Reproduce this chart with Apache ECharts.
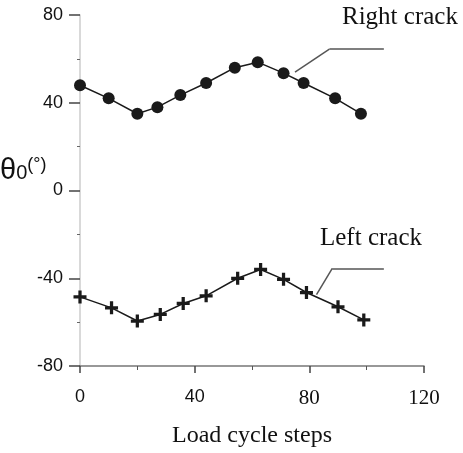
<!DOCTYPE html>
<html>
<head>
<meta charset="utf-8">
<script src="https://cdn.jsdelivr.net/npm/echarts@6/dist/echarts.min.js"></script>
<style>
  html, body { margin: 0; padding: 0; background: #fff; }
</style>
</head>
<body>
<div id="chart" style="width:463px;height:453px;"></div>
<script>
// load cycle steps (x) and crack angles (y)
var rightSteps = [0, 10, 20, 27, 35, 44, 54, 62, 71, 78, 89, 98];
var rightTheta = [48, 42, 35, 38, 43.5, 49, 56, 58.5, 53.5, 49, 42, 35];
var leftSteps = [0, 11, 20, 28, 36, 44, 55, 63, 71, 79, 90, 99];
var leftTheta = [-48.5, -53.5, -59.5, -56.5, -51.5, -48, -40, -36, -40.5, -46.5, -53, -59];

// leader lines for the two labels (data units)
var rightLeader = [[75, 54], [87, 64.5], [106, 64.5]];
var leftLeader = [[82.5, -47.5], [88, -35.5], [106, -35.5]];

var xTicks = [0, 40, 80, 120];
var yTicks = [-80, -40, 0, 40, 80];

function pairs(xs, ys) {
  var out = [];
  for (var i = 0; i < xs.length; i++) out.push([xs[i], ys[i]]);
  return out;
}
function leaderSegs(pts) {
  var segs = [];
  for (var i = 0; i < pts.length - 1; i++) {
    segs.push([{ coord: pts[i] }, { coord: pts[i + 1] }]);
  }
  return segs;
}

var plusPath = 'path://M4.5,0h3v4.5h4.5v3h-4.5v4.5h-3v-4.5h-4.5v-3h4.5z';

var myChart = echarts.init(document.getElementById('chart'));
var option = {
  animation: false,
  backgroundColor: '#fff',
  grid: { left: 80, right: 39, top: 15, bottom: 87, outerBoundsMode: 'none', containLabel: false },
  xAxis: {
    type: 'value',
    min: xTicks[0],
    max: xTicks[xTicks.length - 1],
    interval: 40,
    name: 'Load cycle steps',
    nameLocation: 'middle',
    nameGap: 58,
    nameTextStyle: { fontFamily: 'Liberation Serif', fontSize: 24, color: '#111' },
    axisLine: { onZero: false, lineStyle: { color: '#777', width: 1.5 } },
    axisTick: { show: true, length: 7, lineStyle: { color: '#444', width: 1.5 } },
    minorTick: { show: true, splitNumber: 2, length: 4, lineStyle: { color: '#555' } },
    axisLabel: {
      margin: 22,
      // the scan mixes a sans face for 0/40 and a serif face for 80/120
      formatter: function (v) { return v <= 40 ? '{s|' + v + '}' : '{r|' + v + '}'; },
      rich: {
        s: { fontFamily: 'Liberation Sans', fontSize: 18, color: '#111' },
        r: { fontFamily: 'Liberation Serif', fontSize: 21, color: '#111' }
      }
    },
    splitLine: { show: false }
  },
  yAxis: {
    type: 'value',
    min: yTicks[0],
    max: yTicks[yTicks.length - 1],
    interval: 40,
    axisLine: { show: true, lineStyle: { color: '#ccc', width: 1.5 } },
    axisTick: { show: true, length: 11, lineStyle: { color: '#444', width: 1.5 } },
    minorTick: { show: true, splitNumber: 2, length: 3, lineStyle: { color: '#666' } },
    axisLabel: { margin: 17, fontFamily: 'Liberation Sans', fontSize: 18, color: '#111' },
    splitLine: { show: false }
  },
  graphic: [
    {
      type: 'text', left: 0, top: 156,
      style: {
        text: '{a|θ}{b|0}{c|(°)}',
        rich: {
          a: { fontFamily: 'Liberation Sans', fontSize: 29, fill: '#111' },
          b: { fontFamily: 'Liberation Sans', fontSize: 20, fill: '#111', padding: [5, 0, 0, 0] },
          c: { fontFamily: 'Liberation Sans', fontSize: 18, fill: '#111', padding: [0, 0, 10, 0] }
        }
      }
    },
    {
      type: 'text', left: 342, top: 5,
      style: { text: 'Right crack', fontFamily: 'Liberation Serif', fontSize: 25, fill: '#111' }
    },
    {
      type: 'text', left: 320, top: 226,
      style: { text: 'Left crack', fontFamily: 'Liberation Serif', fontSize: 25, fill: '#111' }
    }
  ],
  series: [
    {
      name: 'Right crack',
      type: 'line',
      data: pairs(rightSteps, rightTheta),
      symbol: 'circle',
      symbolSize: 12,
      itemStyle: { color: '#1a1a1a' },
      lineStyle: { color: '#1a1a1a', width: 1.5 },
      markLine: {
        silent: true,
        symbol: 'none',
        label: { show: false },
        lineStyle: { color: '#555', width: 1.5, type: 'solid' },
        data: leaderSegs(rightLeader)
      }
    },
    {
      name: 'Left crack',
      type: 'line',
      data: pairs(leftSteps, leftTheta),
      symbol: plusPath,
      symbolSize: 13,
      itemStyle: { color: '#1a1a1a' },
      lineStyle: { color: '#1a1a1a', width: 1.5 },
      markLine: {
        silent: true,
        symbol: 'none',
        label: { show: false },
        lineStyle: { color: '#555', width: 1.5, type: 'solid' },
        data: leaderSegs(leftLeader)
      }
    }
  ]
};
myChart.setOption(option);
</script>
</body>
</html>
